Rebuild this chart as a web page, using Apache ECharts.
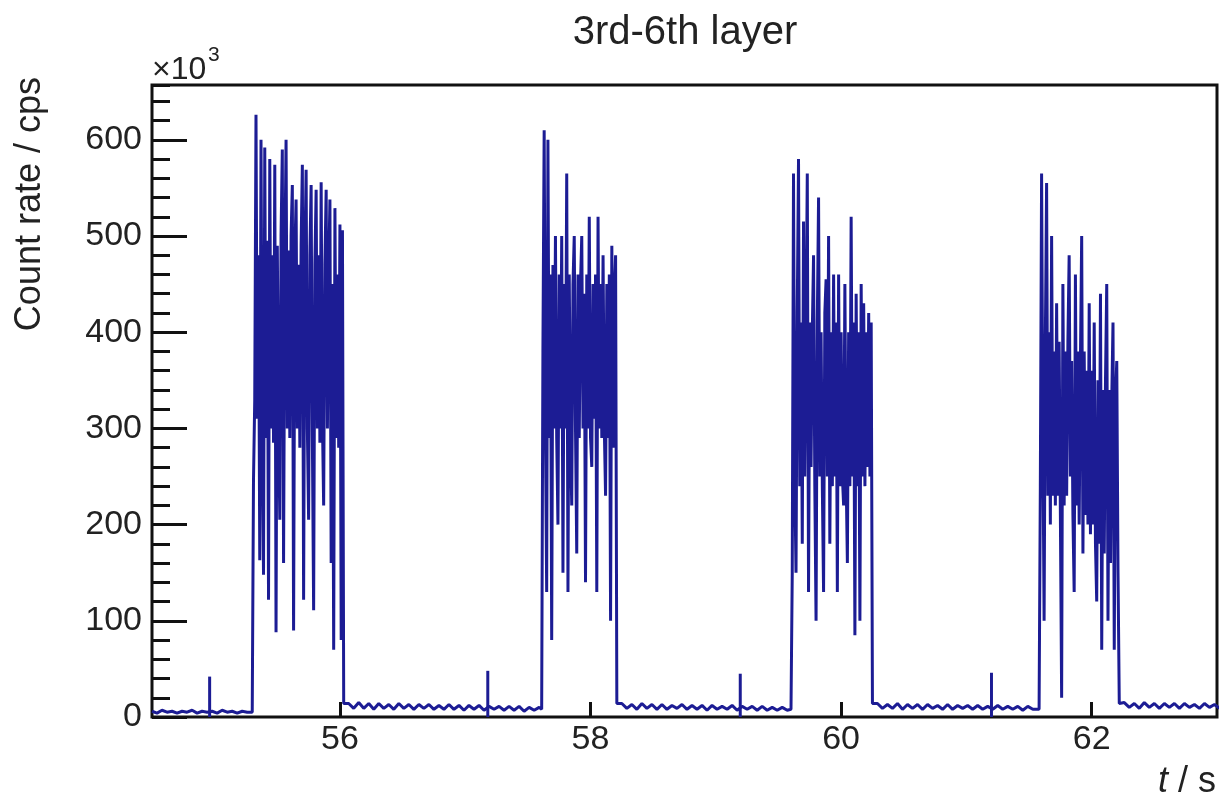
<!DOCTYPE html>
<html>
<head>
<meta charset="utf-8">
<script src="https://cdn.jsdelivr.net/npm/echarts@6/dist/echarts.min.js"></script>
<style>
html,body{margin:0;padding:0;background:#fff;}
#chart{width:1225px;height:803px;}
</style>
</head>
<body>
<div id="chart"></div>
<script>
// ---- data (count rate in units of 10^3 cps) ----
const burstStep = 0.01;   // s between samples inside a burst
const quietStep = 0.04;   // s between samples in quiet periods
const burstStart = [55.30, 57.61, 59.60, 61.58];
const quietStart = [54.50, 56.07, 58.25, 60.29, 62.26];

const quiet0 = [6,4,7,5,6,4,6,5,7,4,6,5,6,4,7,5,6,4,6,5];
const burst1 = [5,246,330,626,310,480,163,600,300,148,592,290,495,122,580,300,480,285,574,88,
  490,310,205,500,590,160,470,600,300,485,290,500,553,90,480,538,300,470,280,490,
  574,122,475,569,300,205,480,553,290,111,470,548,300,480,285,556,310,220,470,548,
  300,460,538,160,450,70,529,290,460,280,512,80,506,14];
const quiet1 = [14,9,15,9,14,8,14,9,13,8,14,9,13,8,13,9,13,8,12,8,13,8,12,7,12,8,12,7,11,8,11,7,11,7,11,6,10,7,10];
const burst2 = [8,380,610,300,130,600,290,460,80,470,300,500,290,200,460,300,500,150,450,300,
  565,130,460,290,220,450,500,300,170,460,290,450,500,300,440,140,460,300,520,290,
  260,450,310,460,130,520,300,450,290,480,300,230,450,290,460,100,490,280,440,480,14];
const quiet2 = [14,9,13,8,14,9,13,8,13,8,12,9,13,8,12,8,12,7,12,8,11,8,12,7,11,8,11,7,11,7,10,7,10,7];
const burst3 = [8,150,565,250,150,420,580,240,410,180,515,250,400,565,130,410,260,400,480,240,
  100,410,540,250,400,240,130,420,455,250,500,180,400,240,460,250,410,130,460,240,
  400,250,220,450,250,160,400,240,520,250,410,85,440,240,400,100,450,250,430,240,
  400,260,420,250,410,14];
const quiet3 = [14,9,13,9,14,8,13,9,13,8,13,9,12,8,13,8,12,9,12,8,12,8,11,8,12,8,11,8,11,7,11,8];
const burst4 = [8,240,565,300,100,390,555,230,400,200,500,230,380,220,430,230,390,210,20,450,
  220,380,230,390,480,250,370,210,130,460,220,380,200,370,500,170,380,210,360,200,
  430,190,360,200,410,180,120,350,180,440,70,340,170,350,450,100,340,160,330,410,
  70,330,370,150,14];
const quiet4 = [15,10,14,9,15,10,14,9,14,10,14,9,14,10,13,9,14,10,13,9];

const spikeTimes = [54.96, 57.18, 59.195, 61.20];
const spikeValues = [42, 48, 45, 46];

// ---- build series data ----
function seg(start, step, vals) {
  return vals.map((v, i) => [Math.round((start + i * step) * 10000) / 10000, v]);
}
const bursts = [burst1, burst2, burst3, burst4];
const quiets = [quiet0, quiet1, quiet2, quiet3, quiet4];
let rateData = [];
for (let k = 0; k < quiets.length; k++) {
  rateData = rateData.concat(seg(quietStart[k], quietStep, quiets[k]));
  if (k < bursts.length) rateData = rateData.concat(seg(burstStart[k], burstStep, bursts[k]));
}
const spikeData = spikeTimes.map((t, i) => [t, spikeValues[i]]);

const lineColor = '#1c1c94';
const textColor = '#222';
const fontFam = '"Liberation Sans", Arial, Helvetica, sans-serif';

const chart = echarts.init(document.getElementById('chart'), null, {renderer: 'canvas'});
chart.setOption({
  animation: false,
  backgroundColor: '#fff',
  grid: {left: 152, right: 8, top: 85, bottom: 86, show: true, borderColor: '#111', borderWidth: 3, backgroundColor: 'transparent'},
  xAxis: {
    type: 'value', min: 54.5, max: 63, splitNumber: 4,
    axisLine: {show: false},
    axisTick: {inside: true, length: 15, lineStyle: {color: '#111', width: 3}},
    axisLabel: {fontSize: 34, color: textColor, fontFamily: fontFam, margin: 6, showMinLabel: false, showMaxLabel: false},
    splitLine: {show: false}
  },
  yAxis: [
    {
      type: 'value', min: 0, max: 657, interval: 100,
      axisLine: {show: false},
      axisTick: {inside: true, length: 35, lineStyle: {color: '#111', width: 3}},
      axisLabel: {fontSize: 34, color: textColor, fontFamily: fontFam, margin: 10, showMaxLabel: false},
      splitLine: {show: false}
    },
    {
      type: 'value', min: 0, max: 657, interval: 20, position: 'left',
      axisLine: {show: false},
      axisTick: {inside: true, length: 18, lineStyle: {color: '#111', width: 3}},
      axisLabel: {show: false},
      splitLine: {show: false}
    }
  ],
  series: [
    {
      type: 'line', data: rateData, yAxisIndex: 0, symbol: 'none', showSymbol: false,
      lineStyle: {color: lineColor, width: 3}, clip: true, silent: true
    },
    {
      type: 'bar', data: spikeData, yAxisIndex: 0, barWidth: 3,
      itemStyle: {color: lineColor}, silent: true
    }
  ],
  graphic: [
    {type: 'text', x: 685, y: 33, style: {text: '3rd-6th layer', font: '40px ' + fontFam, fill: textColor, align: 'center', verticalAlign: 'middle'}},
    {type: 'text', x: 152, y: 70, style: {text: '×10', font: '32px ' + fontFam, fill: textColor, align: 'left', verticalAlign: 'middle'}},
    {type: 'text', x: 208, y: 55, style: {text: '3', font: '21px ' + fontFam, fill: textColor, align: 'left', verticalAlign: 'middle'}},
    {type: 'text', x: 30, y: 77, rotation: Math.PI / 2, style: {text: 'Count rate / cps', font: '36px ' + fontFam, fill: textColor, align: 'right', verticalAlign: 'middle'}},
    {type: 'text', x: 1216, y: 782, style: {
      text: '{i|t}{n| / s}', align: 'right', verticalAlign: 'middle',
      rich: {
        i: {fontSize: 36, fontStyle: 'italic', fontFamily: fontFam, fill: textColor, color: textColor},
        n: {fontSize: 36, fontFamily: fontFam, fill: textColor, color: textColor}
      }
    }}
  ]
});
</script>
</body>
</html>
